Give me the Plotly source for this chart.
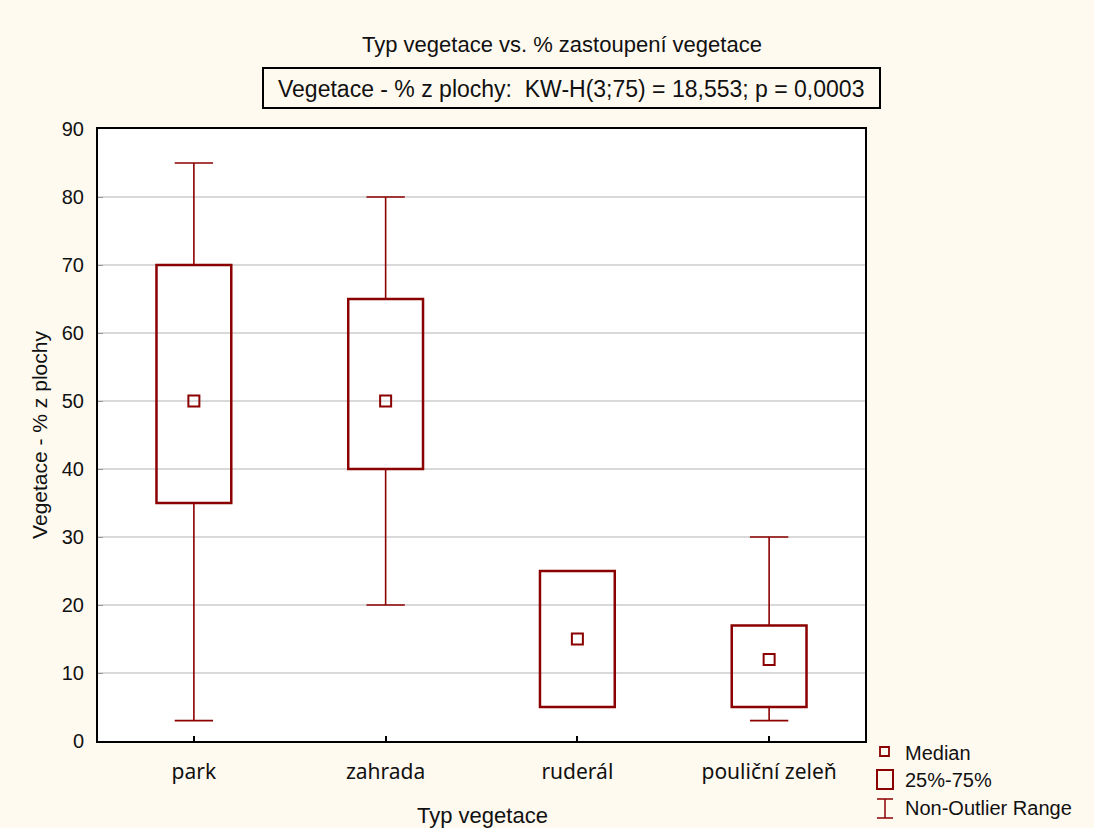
import plotly.graph_objects as go

# Kruskal-Wallis summary per vegetation type
categories = ["park", "zahrada", "ruderál", "pouliční zeleň"]
medians = [50, 50, 15, 12]
q1 = [35, 40, 5, 5]
q3 = [70, 65, 25, 17]
whisker_low = [3, 20, 5, 3]
whisker_high = [85, 80, 25, 30]
y_ticks = [0, 10, 20, 30, 40, 50, 60, 70, 80, 90]

RED = "#8B0000"
BG = "#FFFAF0"
W, H = 1094, 828
L, R, T, B = 98, 229, 129, 87
PW, PH = W - L - R, H - T - B

xs = list(range(len(categories)))
BOX_HALF = 0.195
CAP_HALF = 0.1


def px(xp):
    return (xp - L) / PW


def py(yp):
    return (H - B - yp) / PH


fig = go.Figure()

shapes = []
for i in xs:
    # whiskers
    shapes.append(dict(type="line", xref="x", yref="y", x0=i, x1=i,
                       y0=q3[i], y1=whisker_high[i], line=dict(color=RED, width=1.6)))
    shapes.append(dict(type="line", xref="x", yref="y", x0=i, x1=i,
                       y0=whisker_low[i], y1=q1[i], line=dict(color=RED, width=1.6)))
    for v in (whisker_low[i], whisker_high[i]):
        shapes.append(dict(type="line", xref="x", yref="y", x0=i - CAP_HALF, x1=i + CAP_HALF,
                           y0=v, y1=v, line=dict(color=RED, width=1.6)))
    # interquartile box
    shapes.append(dict(type="rect", xref="x", yref="y", x0=i - BOX_HALF, x1=i + BOX_HALF,
                       y0=q1[i], y1=q3[i], line=dict(color=RED, width=2.5),
                       fillcolor="rgba(0,0,0,0)"))

fig.add_trace(go.Scatter(
    x=xs, y=medians, mode="markers",
    marker=dict(symbol="square-open", size=11, color=RED, line=dict(color=RED, width=2)),
    showlegend=False, hoverinfo="skip"))

# statistics box under the title
shapes.append(dict(type="rect", xref="paper", yref="paper",
                   x0=px(263), x1=px(880), y0=py(108), y1=py(68),
                   line=dict(color="black", width=2), fillcolor="rgba(0,0,0,0)"))

# legend symbols
shapes.append(dict(type="rect", xref="paper", yref="paper",
                   x0=px(880), x1=px(889), y0=py(756), y1=py(747),
                   line=dict(color=RED, width=1.8), fillcolor="rgba(0,0,0,0)"))
shapes.append(dict(type="rect", xref="paper", yref="paper",
                   x0=px(877), x1=px(893), y0=py(789), y1=py(770),
                   line=dict(color=RED, width=2), fillcolor="rgba(0,0,0,0)"))
shapes.append(dict(type="line", xref="paper", yref="paper",
                   x0=px(885), x1=px(885), y0=py(818), y1=py(799),
                   line=dict(color=RED, width=1.5)))
for yy in (799, 818):
    shapes.append(dict(type="line", xref="paper", yref="paper",
                       x0=px(877), x1=px(893), y0=py(yy), y1=py(yy),
                       line=dict(color=RED, width=1.5)))

font_main = "Liberation Sans, Arial"
font_cat = "Noto Sans, Open Sans, sans-serif"


def label(text, x, y, size, xanchor="center"):
    return dict(text=text, xref="paper", yref="paper", x=px(x), y=py(y),
                xanchor=xanchor, yanchor="middle", showarrow=False,
                font=dict(family=font_main, size=size, color="#111"))


annotations = [
    label("Typ vegetace vs. % zastoupení vegetace", 562, 44, 22),
    label("Vegetace - % z plochy:  KW-H(3;75) = 18,553; p = 0,0003", 571, 89, 23),
    label("Median", 903, 753, 20, "left"),
    label("25%-75%", 903, 780, 20, "left"),
    label("Non-Outlier Range", 903, 808, 20, "left"),
    label("Typ vegetace", 482, 815, 22),
]

fig.update_layout(
    width=W, height=H,
    margin=dict(l=L, r=R, t=T, b=B),
    paper_bgcolor=BG, plot_bgcolor="white",
    shapes=shapes, annotations=annotations,
    showlegend=False,
    xaxis=dict(range=[-0.5, 3.5], tickvals=xs, ticktext=categories,
               ticks="inside", ticklen=5, tickcolor="black", tickwidth=1.5,
               ticklabelstandoff=11,
               showgrid=False, zeroline=False,
               showline=True, mirror=True, linecolor="black", linewidth=2,
               tickfont=dict(family=font_cat, size=21, color="#111")),
    yaxis=dict(range=[0, 90], tickvals=y_ticks,
               ticks="inside", ticklen=5, tickcolor="#999", tickwidth=1,
               ticklabelstandoff=8,
               showgrid=True, gridcolor="#D9D9D9", gridwidth=1.5, zeroline=False,
               showline=True, mirror=True, linecolor="black", linewidth=2,
               tickfont=dict(family=font_main, size=20, color="#111"),
               title=dict(text="Vegetace - % z plochy", standoff=8,
                          font=dict(family=font_main, size=21, color="#111"))),
)

fig.write_html("out.html")
